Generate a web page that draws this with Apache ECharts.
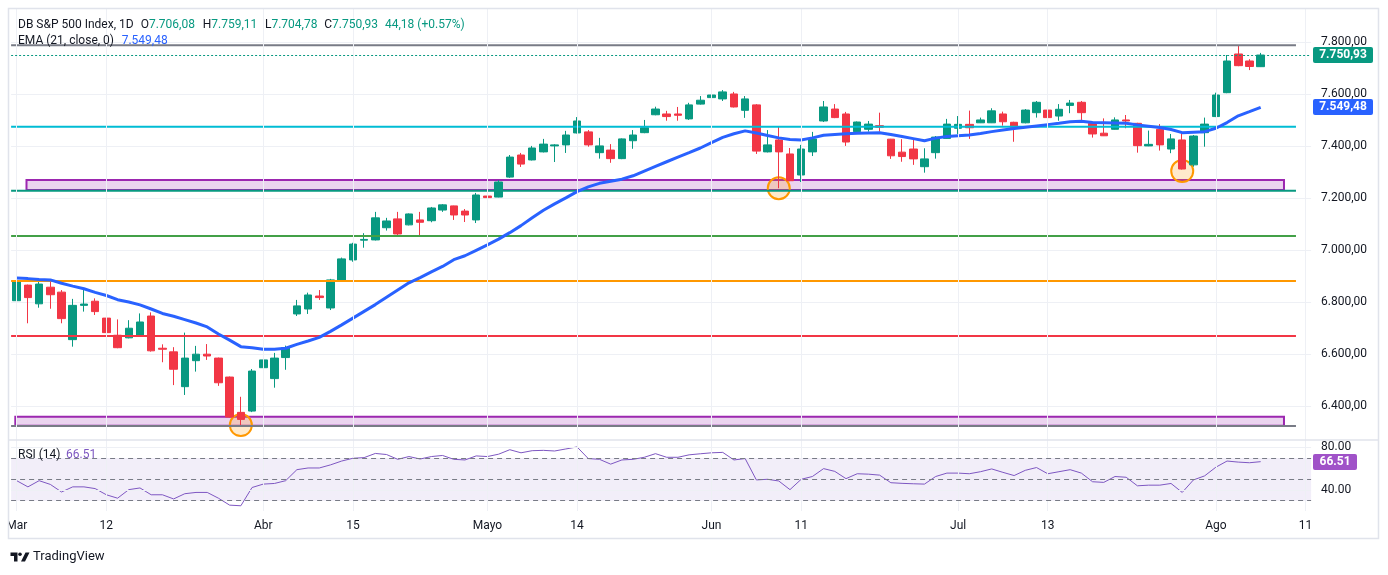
<!DOCTYPE html>
<html><head><meta charset="utf-8">
<script src="https://cdn.jsdelivr.net/npm/echarts@6/dist/echarts.min.js"></script>
<style>html,body{margin:0;padding:0;background:#fff;}#c{width:1388px;height:575px;}</style>
</head><body><div id="c"></div>
<script>
// ---------- DATA ----------
const opens = [6805,6865,6793,6857,6838,6655,6787,6803,6738,6672, 6662,6673,6746,6622,6608,6474,6574,6599,6584,6511,
 6375,6380,6547,6505,6586,6754,6773,6823,6777,6881, 6962,7038,7039,7086,7120,7097,7116,7113,7154,7170,
 7150,7116,7208,7204,7281,7366,7347,7378,7401,7405, 7451,7455,7375,7385,7352,7421,7452,7521,7524,7524,
 7505,7562,7587,7582,7601,7538,7559,7378,7424,7370, 7289,7378,7497,7543,7524,7456,7465,7479,7427,7377,
 7389,7321,7375,7430,7469,7484,7490,7490,7524,7492, 7490,7529,7539,7516,7557,7569,7488,7450,7465,7501,
 7488,7401,7465,7389,7424,7328,7452,7514,7606,7755, 7728,7706.08];
const closes = [6878,6817,6869,6828,6736,6787,6792,6763,6682,6624, 6699,6723,6612,6618,6541,6584,6599,6592,6489,6357,
 6348,6534,6577,6584,6624,6785,6827,6817,6885,6966, 7023,7041,7124,7112,7062,7139,7107,7162,7174,7135,
 7135,7212,7202,7262,7358,7331,7393,7408,7405,7443, 7497,7405,7401,7352,7428,7443,7471,7543,7514,7519,
 7559,7577,7597,7609,7551,7582,7381,7405,7378,7267, 7389,7428,7551,7510,7416,7493,7485,7473,7363,7360,
 7351,7351,7435,7485,7484,7471,7501,7536,7494,7471, 7539,7569,7510,7542,7566,7529,7447,7440,7501,7497,
 7402,7407,7405,7428,7312,7439,7485,7597,7728,7710, 7706.75,7750.93];
const highs = [6900,6867,6887,6887,6846,6812,6846,6814,6759,6733, 6730,6756,6760,6637,6626,6682,6631,6638,6586,6513,
 6435,6542,6615,6604,6632,6808,6836,6846,6889,6971, 7028,7065,7147,7124,7147,7141,7147,7166,7177,7171,
 7158,7220,7247,7269,7366,7374,7401,7428,7408,7459, 7512,7462,7432,7408,7430,7462,7501,7552,7536,7551,
 7567,7593,7612,7616,7609,7593,7562,7462,7475,7393, 7405,7455,7574,7562,7532,7495,7497,7529,7428,7427,
 7427,7392,7439,7505,7516,7537,7510,7546,7533,7494, 7543,7574,7559,7562,7578,7574,7490,7507,7511,7520,
 7490,7460,7485,7447,7456,7443,7510,7606,7751,7786, 7735,7759.11];
const lows = [6763,6718,6778,6774,6718,6628,6763,6750,6674,6622, 6660,6666,6609,6568,6480,6442,6532,6577,6477,6355,
 6326,6376,6545,6470,6539,6746,6754,6808,6769,6879, 6955,7009,7037,7075,7052,7095,7052,7107,7147,7116,
 7108,7104,7174,7203,7278,7320,7345,7376,7339,7374, 7449,7398,7352,7336,7350,7390,7450,7519,7498,7498,
 7501,7560,7562,7574,7549,7509,7370,7376,7238,7265, 7262,7362,7493,7508,7401,7454,7456,7456,7351,7340,
 7328,7298,7352,7429,7447,7428,7489,7489,7479,7417, 7488,7510,7505,7498,7527,7501,7433,7439,7464,7469,
 7375,7400,7383,7373,7310,7321,7398,7512,7604,7708, 7693,7704.78];
const ema21 = [6892,6890,6887,6885,6872,6861,6851,6837,6825,6809, 6800,6789,6773,6756,6745,6732,6719,6704,6677,6653,
 6628,6624,6618,6618,6622,6637,6650,6664,6687,6712, 6738,6764,6790,6818,6846,6874,6894,6916,6937,6963,
 6978,6999,7020,7042,7067,7094,7124,7153,7178,7201, 7225,7243,7257,7265,7273,7286,7304,7322,7340,7358,
 7375,7393,7414,7434,7448,7459,7451,7441,7432,7426, 7424,7432,7442,7445,7448,7450,7451,7452,7445,7437,
 7429,7421,7431,7437,7440,7443,7449,7456,7462,7468, 7473,7478,7483,7488,7494,7496,7491,7490,7489,7488,
 7482,7477,7472,7464,7452,7454,7456,7469,7491,7517, 7533,7549.48];
const rsi14 = [48.7,42.9,48.7,45.2,38.1,42.9,42.9,41.3,35.5,32.3, 40.3,41.9,35.5,35.5,31.6,36.5,37.7,37.7,32.3,25.8,
 25.2,42.3,45.5,46.1,48.7,59.0,60.6,60.6,63.5,67.1, 69.7,70.3,74.2,73.2,68.7,71.3,69.0,71.3,72.3,68.7,
 68.1,71.9,71.3,73.5,77.7,74.8,76.8,77.1,76.5,78.4, 80.3,69.4,68.7,64.2,68.1,68.7,70.6,74.0,70.6,70.6,
 72.9,73.9,74.8,75.2,68.1,69.4,49.4,50.0,48.4,40.3, 50.0,52.6,60.0,57.4,50.6,55.2,54.8,53.9,46.8,46.2,
 45.8,45.5,52.6,55.8,55.8,55.2,57.1,59.7,56.5,53.5, 58.4,61.0,55.2,57.1,59.0,55.8,47.7,47.1,52.6,51.9,
 43.9,44.5,44.5,46.1,37.7,49.4,53.2,61.3,67.1,66.1, 65.5,66.51];
const tickIndex = [0,8,22,30,42,50,62,70,84,92,107,115];
const tickText  = ['Mar','12','Abr','15','Mayo','14','Jun','11','Jul','13','Ago','11'];
const slotCount = 116;
const levelValues = [7789, 7475, 7228.6, 7054, 6881, 6669, 6322.5];
const zoneTop = [7269.8, 6358.4];
const zoneBottom = [7231.3, 6323.7];
const circleIndex = [20, 68, 104];
const circleValue = [6326, 7238, 7304];
const rsiBands = [70, 50, 30];
const rsiGrid = [80, 40];

// ---------- STYLE / LAYOUT ----------
const levelColors = ['#787b86','#00bcd4','#089981','#43a047','#ff9800','#f23645','#787b86'];
const levelEnd = 114.15;
const zoneStart = [0.874, -0.125], zoneEnd = 113.08;
const FONT = 'Roboto, "Liberation Sans", sans-serif';
const DARK = '#131722', GREEN = '#089981', RED = '#f23645', BLUE = '#2962ff', PURPLE = '#7e57c2';
const GL = 11.1, GW = 1300;

function fmt(v){ const p = v.toFixed(2).split('.'); return p[0].replace(/\B(?=(\d{3})+(?!\d))/g,'.') + ',' + p[1]; }
function isMult(v,m){ return Math.abs(v/m - Math.round(v/m)) < 1e-6; }

const cats = Array.from({length: slotCount}, (_, i) => String(i));
const candleData = opens.map((o,i) => [o, closes[i], lows[i], highs[i]]);
const n = closes.length;
const lastClose = closes[n-1];

const chart = echarts.init(document.getElementById('c'));

const series = [];
// vertical grid lines
series.push({type:'line', xAxisIndex:1, yAxisIndex:0, data:[], silent:true, z:0,
  markLine:{silent:true, symbol:['none','none'], animation:false, label:{show:false},
    lineStyle:{color:'#eef0f5', width:1, type:'solid'}, data: tickIndex.map(i => ({xAxis:i}))}});
series.push({type:'line', xAxisIndex:3, yAxisIndex:1, data:[], silent:true, z:0,
  markLine:{silent:true, symbol:['none','none'], animation:false, label:{show:false},
    lineStyle:{color:'#eef0f5', width:1, type:'solid'}, data: tickIndex.map(i => ({xAxis:i}))}});
// zones
series.push({type:'line', xAxisIndex:1, yAxisIndex:0, data:[], silent:true, z:1,
  markArea:{silent:true, animation:false, itemStyle:{color:'rgba(156,39,176,0.2)', borderColor:'#9c27b0', borderWidth:2},
    data: zoneTop.map((t,k) => [{coord:[zoneStart[k], t]}, {coord:[zoneEnd, zoneBottom[k]]}])}});
// circles
series.push({type:'scatter', xAxisIndex:0, yAxisIndex:0, silent:true, z:1, symbolSize:22,
  data: circleIndex.map((x,k) => [x, circleValue[k]]),
  itemStyle:{color:'rgba(255,152,0,0.2)', borderColor:'#ff9800', borderWidth:2, opacity:1}});
// candles
series.push({type:'candlestick', xAxisIndex:0, yAxisIndex:0, data:candleData, barWidth:8, z:2,
  itemStyle:{color:GREEN, color0:RED, borderColor:GREEN, borderColor0:RED, borderWidth:1},
  markLine:{silent:true, symbol:['none','none'], animation:false, label:{show:false},
    lineStyle:{color:GREEN, width:1, type:[2,2]}, data:[{yAxis:lastClose}]}});
// level lines
levelValues.forEach((lv,k) => {
  series.push({type:'line', xAxisIndex:1, yAxisIndex:0, silent:true, z:3, symbol:'none',
    data:[[-0.5, lv],[levelEnd, lv]], lineStyle:{color:levelColors[k], width:2}});
});
// EMA
series.push({type:'line', xAxisIndex:0, yAxisIndex:0, data:ema21, symbol:'none', silent:true, z:4,
  lineStyle:{color:BLUE, width:3}});
// RSI
series.push({type:'line', xAxisIndex:2, yAxisIndex:1, data:rsi14, symbol:'none', silent:true, z:3,
  lineStyle:{color:PURPLE, width:1},
  markArea:{silent:true, animation:false, itemStyle:{color:'rgba(126,87,194,0.1)'}, data:[[{yAxis:rsiBands[0]},{yAxis:rsiBands[2]}]]},
  markLine:{silent:true, symbol:['none','none'], animation:false, label:{show:false},
    data: rsiGrid.map(v => ({yAxis:v, lineStyle:{color:'#eef0f5', type:'solid', width:1}}))
      .concat(rsiBands.map(v => ({yAxis:v, lineStyle:{color:'#787b86', type:[5,4], width:1}})))}});

const option = {
  animation:false,
  backgroundColor:'#ffffff',
  textStyle:{fontFamily:FONT},
  grid:[
    {left:GL, top:9, width:GW, height:431, outerBoundsMode:'none'},
    {left:GL, top:440, width:GW, height:71, outerBoundsMode:'none'}
  ],
  xAxis:[
    {type:'category', gridIndex:0, data:cats, boundaryGap:true, axisLine:{show:false}, axisTick:{show:false}, axisLabel:{show:false}, splitLine:{show:false}},
    {type:'value', gridIndex:0, min:-0.5, max:slotCount-0.5, show:false},
    {type:'category', gridIndex:1, data:cats, boundaryGap:true, axisLine:{show:false}, axisTick:{show:false},
      axisLabel:{show:true, interval:(i) => tickIndex.includes(i), formatter:(v) => { const k = tickIndex.indexOf(+v); return k >= 0 ? tickText[k] : ''; },
        color:DARK, fontSize:12, margin:9, fontFamily:FONT}, splitLine:{show:false}},
    {type:'value', gridIndex:1, min:-0.5, max:slotCount-0.5, show:false}
  ],
  yAxis:[
    {type:'value', gridIndex:0, position:'right', min:6268.6, max:7928.2, splitNumber:8, minInterval:200, maxInterval:200,
      axisLine:{show:false}, axisTick:{show:false},
      axisLabel:{color:DARK, fontSize:12, margin:10, fontFamily:FONT, formatter:(v) => isMult(v,200) ? fmt(v) : ''},
      splitLine:{show:true, showMinLine:false, showMaxLine:false, lineStyle:{color:'#eef0f5'}}},
    {type:'value', gridIndex:1, position:'right', min:20.3, max:86.8, minInterval:10, maxInterval:10,
      axisLine:{show:false}, axisTick:{show:false},
      axisLabel:{color:DARK, fontSize:12, margin:10, fontFamily:FONT, formatter:(v) => (Math.abs(v-40)<1e-6 || Math.abs(v-80)<1e-6) ? v.toFixed(2) : ''},
      splitLine:{show:false}}
  ],
  series: series
};
chart.setOption(option);

// ---------- overlays (legend texts, tags, frame) ----------
const o = opens[n-1], h = highs[n-1], l = lows[n-1], c = closes[n-1];
const chg = c - closes[n-2];
const pct = chg / closes[n-2] * 100;
const yLast = chart.convertToPixel({yAxisIndex:0}, lastClose);
const yEma = chart.convertToPixel({yAxisIndex:0}, ema21[n-1]);
const yRsi = chart.convertToPixel({yAxisIndex:1}, rsi14[n-1]);

function txt(x, y, text, fill, font, extra){
  return Object.assign({type:'text', x:x, y:y, z:100, silent:true,
    style:{text:text, fill:fill, font:font || ('12px ' + FONT), verticalAlign:'middle', align:'left'}}, extra || {});
}
function tag(y, text, bg, w){
  return [
    {type:'rect', z:100, silent:true, shape:{x:1313, y:Math.round(y)-8, width:w, height:16, r:2}, style:{fill:bg}},
    {type:'text', z:101, silent:true, x:1313 + w/2, y:Math.round(y), style:{text:text, fill:'#ffffff', font:'bold 12px ' + FONT, align:'center', verticalAlign:'middle'}}
  ];
}
const rich = (k, v, x) => ({type:'text', x:x, y:25, z:100, silent:true,
  style:{text:'{k|' + k + '}{v|' + v + '}', font:'12px ' + FONT, verticalAlign:'middle',
    rich:{k:{fill:DARK, font:'12px ' + FONT}, v:{fill:GREEN, font:'12px ' + FONT}}}});

const graphics = [
  {type:'rect', z:99, silent:true, shape:{x:0, y:512, width:8.5, height:25}, style:{fill:'#ffffff'}},
  {type:'rect', z:99, silent:true, shape:{x:8.5, y:8.5, width:1370, height:530}, style:{fill:'none', stroke:'#e0e3eb', lineWidth:1.5}},
  {type:'line', z:99, silent:true, shape:{x1:8.5, y1:440, x2:1378.5, y2:440}, style:{stroke:'#e0e3eb', lineWidth:1.5}},
  txt(18, 25, 'DB S&P 500 Index, 1D', DARK),
  rich('O', fmt(o), 140.7),
  rich('H', fmt(h), 202.7),
  rich('L', fmt(l), 265),
  rich('C', fmt(c), 324.3),
  txt(385, 25, fmt(chg) + ' (' + (chg >= 0 ? '+' : '') + pct.toFixed(2) + '%)', GREEN),
  txt(18, 41, 'EMA (21, close, 0)', DARK),
  txt(121.7, 41, fmt(ema21[n-1]), BLUE),
  txt(18, 455, 'RSI (14)', DARK),
  txt(66, 455, rsi14[n-1].toFixed(2), PURPLE),
  // TradingView logo
  {type:'polygon', z:100, silent:true, shape:{points:[[10.5,552.5],[17.5,552.5],[17.5,561.5],[14,561.5],[14,556],[10.5,556]]}, style:{fill:DARK}},
  {type:'circle', z:100, silent:true, shape:{cx:20, cy:554.3, r:1.8}, style:{fill:DARK}},
  {type:'polygon', z:100, silent:true, shape:{points:[[25.5,552.5],[29.5,552.5],[25,561.5],[21,561.5]]}, style:{fill:DARK}},
  txt(33, 557, 'TradingView', DARK, '13px ' + FONT)
].concat(tag(yLast, fmt(lastClose), GREEN, 60))
 .concat(tag(yEma, fmt(ema21[n-1]), BLUE, 60))
 .concat(tag(yRsi, rsi14[n-1].toFixed(2), '#a052c8', 44));

chart.setOption({graphic: graphics});
</script>
</body></html>
